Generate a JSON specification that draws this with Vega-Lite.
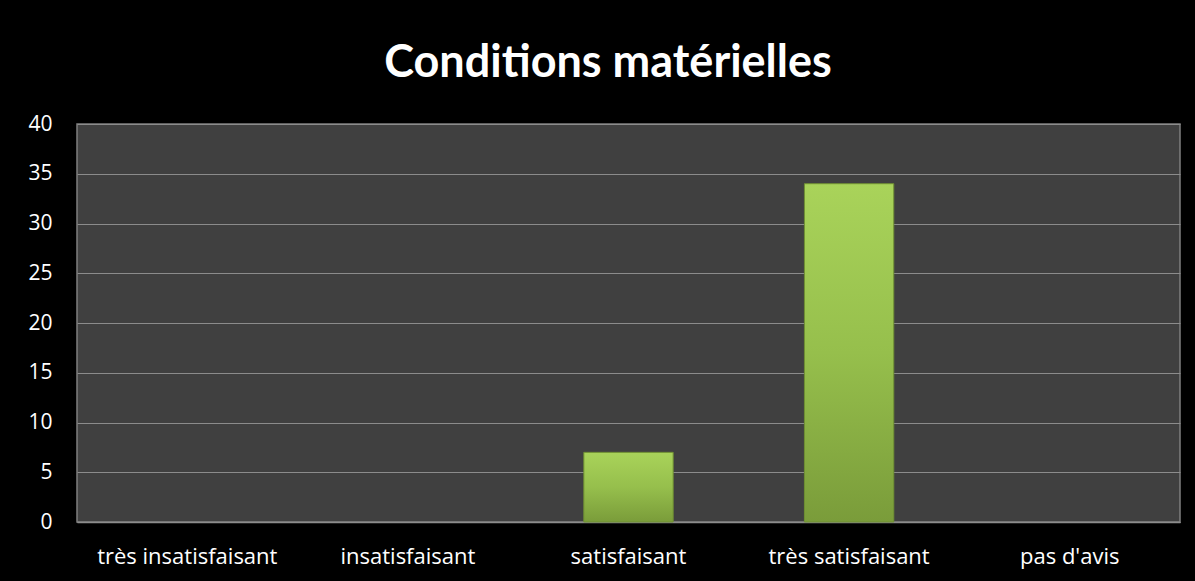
{
  "$schema": "https://vega.github.io/schema/vega-lite/v6.json",
  "autosize": {"type": "none"},
  "width": 1103,
  "height": 398,
  "padding": {"left": 77, "top": 124, "right": 15, "bottom": 59},
  "background": "#000000",
  "title": {
    "text": "Conditions matérielles",
    "color": "#ffffff",
    "font": "Lato",
    "fontWeight": "bold",
    "fontSize": 45,
    "anchor": "middle",
    "frame": "bounds",
    "offset": 27,
    "dx": 4
  },
  "data": {
    "values": [
      {"categorie": "très insatisfaisant", "nombre": 0},
      {"categorie": "insatisfaisant", "nombre": 0},
      {"categorie": "satisfaisant", "nombre": 7},
      {"categorie": "très satisfaisant", "nombre": 34},
      {"categorie": "pas d'avis", "nombre": 0}
    ]
  },
  "transform": [{"filter": "datum.nombre > 0"}],
  "mark": {
    "type": "bar",
    "color": {
      "gradient": "linear",
      "x1": 0, "y1": 0, "x2": 0, "y2": 1,
      "stops": [
        {"offset": 0, "color": "#a9d35a"},
        {"offset": 0.5, "color": "#96bf4c"},
        {"offset": 1, "color": "#7a9c3a"}
      ]
    },
    "stroke": "#6f8f33",
    "strokeWidth": 1
  },
  "encoding": {
    "x": {
      "field": "categorie",
      "type": "nominal",
      "sort": null,
      "scale": {
        "domain": ["très insatisfaisant", "insatisfaisant", "satisfaisant", "très satisfaisant", "pas d'avis"],
        "paddingInner": 0.595,
        "paddingOuter": 0.2975
      },
      "axis": {
        "title": null,
        "labelAngle": 0,
        "ticks": false,
        "domain": true,
        "domainColor": "#8c8c8c",
        "domainWidth": 1.5,
        "labelColor": "#ffffff",
        "labelFont": "Open Sans",
        "labelFontSize": 22,
        "labelLimit": 0,
        "labelPadding": 24
      }
    },
    "y": {
      "field": "nombre",
      "type": "quantitative",
      "scale": {"domain": [0, 40], "nice": false},
      "axis": {
        "title": null,
        "values": [0, 5, 10, 15, 20, 25, 30, 35, 40],
        "ticks": false,
        "domain": false,
        "grid": true,
        "gridColor": "#8c8c8c",
        "gridWidth": 1.2,
        "labelColor": "#ffffff",
        "labelFont": "Open Sans",
        "labelFontSize": 21,
        "labelPadding": 25
      }
    }
  },
  "config": {
    "view": {"fill": "#404040", "stroke": "#7f7f7f", "strokeWidth": 1.5}
  }
}
